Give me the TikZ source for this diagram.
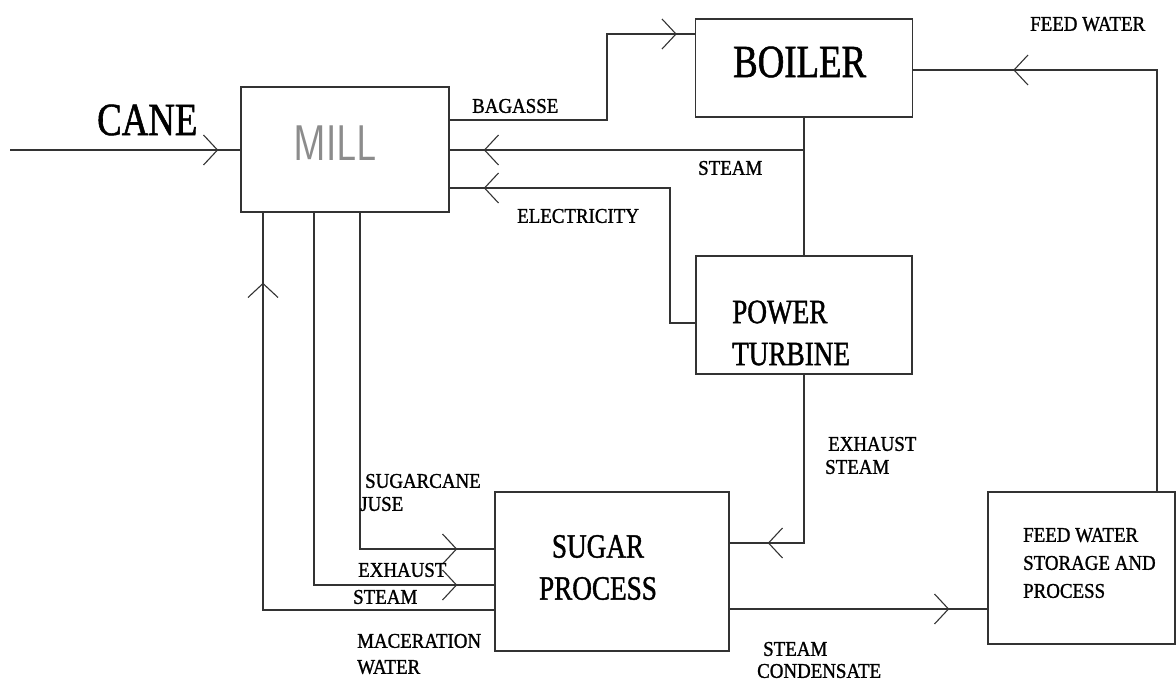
\documentclass[tikz,border=0pt]{standalone}
\usepackage{fontspec}
\setmainfont{Liberation Serif}
\newfontfamily\bigfont[FakeStretch=0.8, FakeBold=1.2]{Liberation Serif}
\newfontfamily\labfont[FakeStretch=0.9, FakeBold=1.2]{Liberation Serif}
\newfontfamily\millfont[FakeStretch=0.8]{Latin Modern Sans}
\usepackage{tikz}
\usetikzlibrary{arrows.meta,decorations.markings}

\tikzset{
  box/.style={draw=black!80, line width=1.5pt, inner sep=0pt},
  flow/.style={draw=black!80, line width=1.5pt},
  arrowat/.style={postaction={decorate}, decoration={markings,
      mark=at position #1 with {\arrow{Straight Barb[length=14pt,width=30pt,line width=1.1pt]}}}},
  bigtxt/.style={font=\bigfont\fontsize{46}{50}\selectfont, inner sep=0pt, anchor=west},
  midtxt/.style={font=\bigfont\fontsize{34}{42}\selectfont, inner sep=0pt, align=left},
  labtxt/.style={font=\labfont\fontsize{21}{23}\selectfont, inner sep=0pt, anchor=west, align=left},
}

\begin{document}
\begin{tikzpicture}[x=1pt, y=-1pt]
		\useasboundingbox (0,0) rectangle (1176,682);
		
		% 1. blocks
		\node[box, minimum width=208pt, minimum height=125pt] (mill) at (345,149.5) {};
		\node[box, minimum width=217pt, minimum height=98pt] (boiler) at (804,68) {};
		\node[box, minimum width=216pt, minimum height=118pt] (turbine) at (804,315) {};
		\node[box, minimum width=234pt, minimum height=159pt] (sugar) at (612,571.5) {};
		\node[box, minimum width=187pt, minimum height=152pt] (feed) at (1081.5,568) {};
		
		% 2. block texts
		\node[font=\millfont\fontsize{50}{50}\selectfont, text=black!45, inner sep=0pt, anchor=west] (milltxt) at (293,143) {MILL};
		\node[bigtxt] (boilertxt) at (733,62) {BOILER};
		\node[midtxt, anchor=west] (turbinetxt) at (732,333) {POWER\\TURBINE};
		\node[midtxt, align=center] (sugartxt) at (598,567.5) {SUGAR\\PROCESS};
		\node[labtxt] (feedtxt) at (1023,563) {FEED WATER\\[5pt]STORAGE AND\\[5pt]PROCESS};
		
		% 3. connectors
		\coordinate (canein) at (10,150);
		\draw[flow, arrowat=-22pt] (canein) -- (canein -| mill.west);
		
		\coordinate (bagbend) at (607,120);
		\coordinate (bagtop) at (607,34);
		\draw[flow, arrowat=-18pt] (bagbend -| mill.east) -- (bagbend) -- (bagtop) -- (bagtop -| boiler.west);
		
		\draw[flow] (boiler.south) -- (turbine.north);
		\coordinate (steamj) at (804,150);
		\draw[flow, arrowat=-34pt] (steamj) -- (steamj -| mill.east);
		
		\coordinate (elbend) at (670,188);
		\draw[flow, arrowat=-34pt] ([yshift=-8pt]turbine.west) -| (elbend) -- (elbend -| mill.east);
		
		\coordinate (exbend) at (804,543);
		\draw[flow, arrowat=-38pt] (turbine.south) -- (exbend) -- (exbend -| sugar.east);
		
		\coordinate (fwbend) at (1157,70);
		\draw[flow, arrowat=-100pt] (fwbend |- feed.north) -- (fwbend) -- (fwbend -| boiler.east);
		
		\draw[flow, arrowat=-38pt] ([yshift=-37.5pt]sugar.east) coordinate (cond) -- (cond -| feed.west);
		
		\coordinate (juice) at (360,549);
		\draw[flow, arrowat=-37pt] (juice |- mill.south) -- (juice) -- (juice -| sugar.west);
		\coordinate (exmill) at (314,585);
		\draw[flow, arrowat=-37pt] (exmill |- mill.south) -- (exmill) -- (exmill -| sugar.west);
		\coordinate (mac) at (263,610);
		\draw[flow, arrowat=-70pt] (mac -| sugar.west) -- (mac) -- (mac |- mill.south);
		
		% 4. stream labels
		\node[bigtxt] (canetxt) at (97,120) {CANE};
		\node[labtxt] (bagtxt) at (472,106) {BAGASSE};
		\node[labtxt] (steamtxt) at (698,168) {STEAM};
		\node[labtxt] (eltxt) at (517,216) {ELECTRICITY};
		\node[labtxt] (fwtxt) at (1030,24) {FEED WATER};
		\node[labtxt] (extxt) at (825,455.5) {\hspace*{3pt}EXHAUST\\STEAM};
		\node[labtxt] (condtxt) at (757,660) {\hspace*{6pt}STEAM\\[-1pt]CONDENSATE};
		\node[labtxt] (juicetxt) at (360,492.5) {\hspace*{5pt}SUGARCANE\\JUSE};
		\node[labtxt] (exmilltxt) at (353,583.5) {\hspace*{5pt}EXHAUST\\[4pt]STEAM};
		\node[labtxt] (mactxt) at (357,654) {MACERATION\\[3pt]WATER};
		
	\end{tikzpicture}
\end{document}
